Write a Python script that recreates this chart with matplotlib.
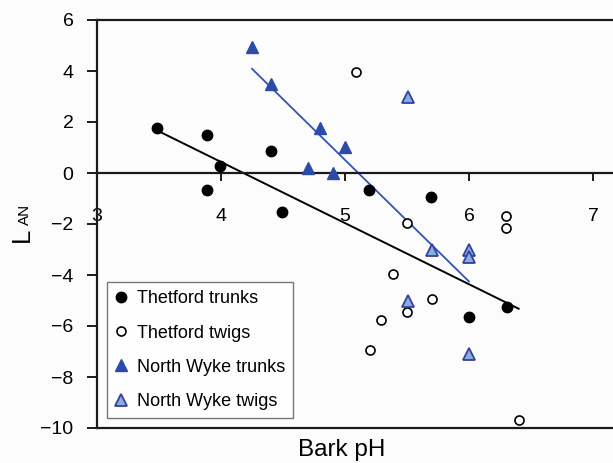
import matplotlib.pyplot as plt
import numpy as np

plt.rcParams['font.family'] = ['Liberation Sans', 'DejaVu Sans']

# Thetford trunks
tt_ph = [3.48, 3.89, 3.99, 3.89, 4.40, 4.49, 5.19, 5.69, 6.00, 6.31]
tt_lan = [1.76, 1.49, 0.27, -0.67, 0.86, -1.53, -0.67, -0.94, -5.65, -5.25]

# Thetford twigs
tw_ph = [5.09, 5.50, 6.30, 6.30, 5.39, 5.70, 5.50, 5.29, 5.20, 6.40]
tw_lan = [3.96, -1.95, -1.67, -2.15, -3.95, -4.95, -5.44, -5.78, -6.93, -9.69]

# North Wyke trunks
nt_ph = [4.25, 4.40, 4.80, 5.00, 4.70, 4.90]
nt_lan = [4.95, 3.49, 1.75, 1.03, 0.18, 0.00]

# North Wyke twigs
nw_ph = [5.51, 5.70, 6.00, 6.00, 5.51, 6.00]
nw_lan = [2.97, -3.02, -3.00, -3.30, -5.02, -7.09]

xticks = [3, 4, 5, 6, 7]
yticks = [6, 4, 2, 0, -2, -4, -6, -8, -10]

W, H = 613, 463
fig = plt.figure(figsize=(W / 100, H / 100), dpi=100, facecolor='#fcfcfc')
ax = fig.add_axes([97 / W, 1 - 428 / H, 1 - 97 / W, (428 - 20) / H])
ax.set_facecolor('#fcfcfc')

# regression lines over each site (trunks + twigs together)
thet_x = np.array(tt_ph + tw_ph)
thet_y = np.array(tt_lan + tw_lan)
thet_fit = np.poly1d(np.polyfit(thet_x, thet_y, 1))
xs = np.array([thet_x.min(), thet_x.max()])
ax.plot(xs, thet_fit(xs), color='black', linewidth=1.4, zorder=2)

nw_x = np.array(nt_ph + nw_ph)
nw_y = np.array(nt_lan + nw_lan)
nw_fit = np.poly1d(np.polyfit(nw_x, nw_y, 1))
xs = np.array([nw_x.min(), nw_x.max()])
ax.plot(xs, nw_fit(xs), color='#2f55b8', linewidth=1.3, zorder=2)

ax.plot(tt_ph, tt_lan, 'o', color='black', markersize=7.5,
        label='Thetford trunks', zorder=3)
ax.plot(tw_ph, tw_lan, 'o', markerfacecolor='white', markeredgecolor='black',
        markeredgewidth=1.2, markersize=6.5, label='Thetford twigs', zorder=3)
ax.plot(nt_ph, nt_lan, '^', color='#2c4ca8', markersize=9,
        label='North Wyke trunks', zorder=3)
ax.plot(nw_ph, nw_lan, '^', markerfacecolor='#86aee0', markeredgecolor='#363f9c',
        markeredgewidth=1.3, markersize=8, label='North Wyke twigs', zorder=3)

ax.set_xlim(3, 3 + (W - 97) / 124)
ax.set_ylim(-10, 6)
ax.set_xticks(xticks)
ax.set_yticks(yticks)
ax.set_yticklabels([str(v).replace('-', '\u2212') for v in yticks])

for s in ['left', 'top', 'bottom']:
    ax.spines[s].set_linewidth(1.6)
    ax.spines[s].set_color('#1a1a1a')
ax.spines['right'].set_visible(False)
ax.spines['bottom'].set_position(('data', 0))
ax.axhline(-10, color='#1a1a1a', linewidth=1.6, clip_on=False)

ax.tick_params(axis='x', direction='out', length=6, width=1.4, pad=19,
               labelsize=14, color='#1a1a1a')
ax.tick_params(axis='y', direction='out', length=7, width=1.4, pad=10,
               labelsize=14, color='#1a1a1a')

fig.text(342 / W, 1 - 450 / H, 'Bark pH', fontsize=17.5,
         ha='center', va='center')

# y label: large L followed by smaller AN on the same baseline
fig.text(29 / W, 1 - 242 / H, 'L', fontsize=18.5, rotation=90,
         rotation_mode='anchor', ha='left', va='baseline')
fig.text(29 / W, 1 - 225 / H, 'AN', fontsize=11, rotation=90,
         rotation_mode='anchor', ha='left', va='baseline')

leg = ax.legend(loc='lower left', bbox_to_anchor=((107 - 97) / (W - 97), (428 - 418) / 408),
                fontsize=13, frameon=True, fancybox=False, handlelength=0.7,
                handletextpad=0.5, labelspacing=0.95, borderpad=0.45,
                borderaxespad=0)
leg.get_frame().set_edgecolor('#555555')
leg.get_frame().set_linewidth(1.0)
leg.get_frame().set_facecolor('white')

fig.savefig('out.png', dpi=100, facecolor=fig.get_facecolor())
